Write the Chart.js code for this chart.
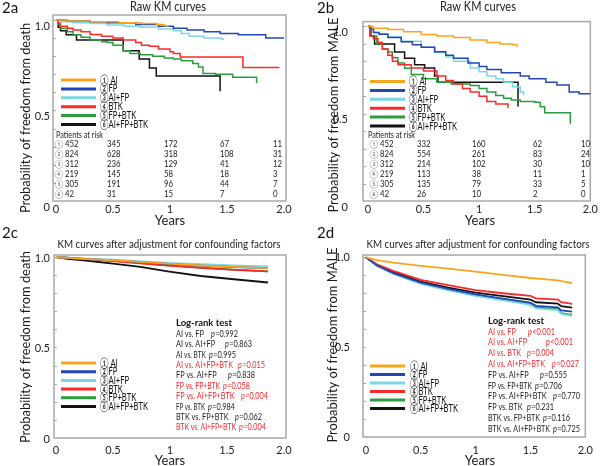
<!DOCTYPE html>
<html><head><meta charset="utf-8">
<script src="https://cdn.jsdelivr.net/npm/chart.js@4.4.1/dist/chart.umd.min.js"></script>
<style>
html,body{margin:0;padding:0;background:#fff;}
body{width:600px;height:466px;position:relative;overflow:hidden;}
canvas{position:absolute;display:block;}
</style></head>
<body>
<canvas id="ca" width="300" height="230" style="left:0;top:0"></canvas>
<canvas id="cb" width="300" height="230" style="left:300px;top:0"></canvas>
<canvas id="cc" width="300" height="246" style="left:0;top:220px"></canvas>
<canvas id="cd" width="300" height="246" style="left:300px;top:220px"></canvas>
<script>
// ---------- data ----------
const groups = ['AI','FP','AI+FP','BTK','FP+BTK','AI+FP+BTK'];
const circled = ['①','②','③','④','⑤','⑥'];
const xTicks = [0, 0.5, 1, 1.5, 2];
const xTickLabels = ['0','0.5','1','1.5','2.0'];
const yTicks = [0, 0.5, 1];
const yTickLabels = ['0','0.5','1.0'];
const minorTicks = [0.1,0.2,0.3,0.4,0.5,0.6,0.7,0.8,0.9,1.0];

// 2a raw KM, freedom from death  [years, probability]
const a_AI = [[0,1],[0.1,0.995],[0.3,0.99],[0.55,0.985],[0.75,0.98],[0.88,0.975],[0.95,0.968],[0.98,0.96]];
const a_FP = [[0,1],[0.1,0.995],[0.3,0.99],[0.45,0.985],[0.7,0.975],[0.9,0.965],[1.03,0.955],[1.15,0.945],[1.3,0.935],[1.44,0.925],[1.6,0.918],[1.84,0.9],[2.0,0.9]];
const a_AIFP = [[0,1],[0.05,0.99],[0.15,0.985],[0.3,0.98],[0.45,0.973],[0.6,0.965],[0.74,0.96],[0.9,0.95],[1.03,0.94],[1.1,0.925],[1.17,0.91],[1.3,0.9],[1.45,0.895],[1.47,0.888]];
const a_BTK = [[0,1],[0.02,0.985],[0.035,0.965],[0.1,0.955],[0.15,0.945],[0.22,0.935],[0.3,0.92],[0.4,0.91],[0.5,0.9],[0.59,0.89],[0.7,0.875],[0.75,0.86],[0.82,0.855],[0.9,0.84],[1.0,0.825],[1.03,0.815],[1.09,0.795],[1.64,0.738],[1.96,0.738]];
const a_FPBTK = [[0,1],[0.02,0.975],[0.04,0.955],[0.1,0.935],[0.15,0.918],[0.22,0.905],[0.3,0.89],[0.4,0.88],[0.45,0.875],[0.5,0.86],[0.59,0.83],[0.65,0.815],[0.74,0.808],[0.85,0.8],[0.95,0.79],[1.03,0.785],[1.1,0.775],[1.2,0.76],[1.25,0.74],[1.29,0.705],[1.4,0.7],[1.55,0.683],[1.76,0.66],[1.76,0.652]];
const a_ALL = [[0,1],[0.02,0.96],[0.04,0.94],[0.09,0.918],[0.18,0.89],[0.59,0.83],[0.73,0.785],[0.82,0.735],[0.88,0.69],[1.44,0.69],[1.44,0.606]];

// 2b raw KM, freedom from MALE
const b_AI = [[0,1],[0.05,0.99],[0.18,0.982],[0.32,0.97],[0.48,0.954],[0.62,0.945],[0.77,0.936],[0.92,0.922],[1.07,0.908],[1.19,0.899],[1.3,0.895],[1.34,0.881]];
const b_FP = [[0,1],[0.02,0.985],[0.05,0.965],[0.1,0.955],[0.18,0.936],[0.3,0.912],[0.4,0.895],[0.48,0.881],[0.6,0.855],[0.7,0.835],[0.77,0.817],[0.9,0.79],[1.0,0.77],[1.07,0.753],[1.2,0.735],[1.37,0.716],[1.45,0.7],[1.6,0.68],[1.7,0.665],[1.81,0.625],[1.9,0.615],[2.0,0.615]];
const b_AIFP = [[0,1],[0.02,0.985],[0.05,0.965],[0.1,0.958],[0.18,0.94],[0.3,0.915],[0.48,0.88],[0.6,0.85],[0.7,0.825],[0.77,0.8],[0.92,0.762],[1.0,0.74],[1.07,0.716],[1.15,0.7],[1.22,0.68],[1.3,0.655],[1.37,0.625],[1.4,0.606]];
const b_BTK = [[0,1],[0.02,0.945],[0.05,0.93],[0.09,0.908],[0.13,0.87],[0.18,0.835],[0.22,0.8],[0.27,0.78],[0.39,0.762],[0.5,0.745],[0.62,0.716],[0.7,0.69],[0.77,0.67],[0.85,0.645],[0.92,0.625],[1.0,0.6],[1.07,0.57],[1.15,0.555],[1.26,0.533]];
const b_FPBTK = [[0,1],[0.03,0.945],[0.08,0.9],[0.13,0.87],[0.18,0.853],[0.22,0.82],[0.27,0.79],[0.33,0.76],[0.39,0.725],[0.5,0.7],[0.62,0.68],[0.75,0.67],[0.92,0.661],[1.0,0.645],[1.07,0.625],[1.15,0.605],[1.22,0.588],[1.29,0.579],[1.37,0.57],[1.5,0.565],[1.55,0.54],[1.59,0.505],[1.82,0.505],[1.82,0.442]];
const b_ALL = [[0,1],[0.02,0.945],[0.06,0.899],[0.24,0.853],[0.33,0.817],[0.42,0.78],[0.51,0.762],[0.6,0.716],[0.63,0.68],[1.35,0.68],[1.35,0.542]];

// 2c adjusted KM, freedom from death
const c_AI = [[0,1],[0.24,0.99],[0.5,0.982],[0.98,0.963],[1.27,0.953],[1.56,0.945],[1.86,0.939]];
const c_FP = [[0,1],[0.24,0.989],[0.5,0.981],[0.98,0.962],[1.27,0.952],[1.56,0.944],[1.86,0.938]];
const c_AIFP = [[0,1],[0.24,0.992],[0.5,0.985],[0.98,0.968],[1.27,0.96],[1.56,0.954],[1.86,0.948]];
const c_BTK = [[0,1],[0.24,0.99],[0.5,0.977],[0.98,0.953],[1.27,0.94],[1.56,0.929],[1.86,0.92]];
const c_FPBTK = [[0,1],[0.24,0.99],[0.5,0.978],[0.98,0.954],[1.27,0.941],[1.56,0.93],[1.86,0.921]];
const c_ALL = [[0,1],[0.1,0.99],[0.24,0.982],[0.5,0.963],[0.74,0.945],[0.98,0.921],[1.27,0.895],[1.56,0.877],[1.86,0.859]];

// 2d adjusted KM, freedom from MALE
const d_AI = [[0,1],[0.1,0.985],[0.25,0.97],[0.5,0.952],[0.75,0.937],[1.0,0.92],[1.25,0.902],[1.5,0.885],[1.75,0.872],[1.88,0.856]];
const d_FP = [[0,1],[0.1,0.955],[0.25,0.912],[0.5,0.859],[0.75,0.825],[1.0,0.794],[1.25,0.77],[1.5,0.748],[1.55,0.73],[1.75,0.722],[1.78,0.705],[1.88,0.698]];
const d_AIFP = [[0,1],[0.1,0.953],[0.25,0.908],[0.5,0.852],[0.75,0.816],[1.0,0.785],[1.25,0.76],[1.5,0.735],[1.55,0.716],[1.75,0.706],[1.78,0.685],[1.88,0.674]];
const d_BTK = [[0,1],[0.1,0.961],[0.25,0.925],[0.5,0.874],[0.75,0.845],[1.0,0.818],[1.25,0.8],[1.5,0.785],[1.55,0.772],[1.75,0.765],[1.78,0.75],[1.88,0.741]];
const d_FPBTK = [[0,1],[0.1,0.954],[0.25,0.91],[0.5,0.856],[0.75,0.82],[1.0,0.789],[1.25,0.765],[1.5,0.741],[1.55,0.722],[1.75,0.712],[1.78,0.69],[1.88,0.68]];
const d_ALL = [[0,1],[0.1,0.957],[0.25,0.918],[0.5,0.865],[0.75,0.832],[1.0,0.804],[1.25,0.784],[1.5,0.765],[1.55,0.75],[1.75,0.742],[1.78,0.728],[1.88,0.72]];

// patients at risk (rows = groups, cols = 0, 0.5, 1, 1.5, 2 years)
const riskA = [[452,345,172,67,11],[824,628,318,108,31],[312,236,129,41,12],[219,145,58,18,3],[305,191,96,44,7],[42,31,15,7,0]];
const riskB = [[452,332,160,62,10],[824,554,261,83,24],[312,214,102,30,10],[219,113,38,11,1],[305,135,79,33,5],[42,26,10,2,0]];

// log-rank tests
const lrC_pairs = ['AI vs. FP','AI vs. AI+FP','AI vs. BTK','AI vs. AI+FP+BTK','FP vs. AI+FP','FP vs. FP+BTK','FP vs. AI+FP+BTK','FP vs. BTK','BTK vs. FP+BTK','BTK vs. AI+FP+BTK'];
const lrC_p = ['=0.992','=0.863','=0.995','=0.015','=0.838','=0.058','=0.004','=0.984','=0.062','=0.004'];
const lrC_sig = [0,0,0,1,0,1,1,0,0,1];
const lrD_pairs = ['AI vs. FP','AI vs. AI+FP','AI vs. BTK','AI vs. AI+FP+BTK','FP vs. AI+FP','FP vs. FP+BTK','FP vs. AI+FP+BTK','FP vs. BTK','BTK vs. FP+BTK','BTK vs. AI+FP+BTK'];
const lrD_p = ['<0.001','<0.001','=0.004','=0.027','=0.555','=0.706','=0.770','=0.231','=0.116','=0.725'];
const lrD_sig = [1,1,1,1,0,0,0,0,0,0];

// ---------- styles / layout ----------
const colors = ['#F7A51E','#2446B4','#7DD6E4','#FA2A2A','#2A9E3C','#121212'];
const FAM = 'Lato, "DejaVu Sans", sans-serif';
const lrPxC = [211,225,209,238,228,223,241,208,235,239];
const lrPxD = [528,546,527,552,540,535,553,527,543,553];

function txt(ctx, s, x, y, o) {
  ctx.save();
  ctx.font = o.font; ctx.fillStyle = o.color || '#1a1a1a';
  ctx.textAlign = o.align || 'left'; ctx.textBaseline = 'middle';
  ctx.translate(x, y);
  if (o.rot) ctx.rotate(o.rot);
  ctx.scale(o.sx || 1, 1);
  ctx.fillText(s, 0, 0);
  const w = ctx.measureText(s).width * (o.sx || 1);
  ctx.restore();
  return w;
}
function fitSx(ctx, font, sample, target) {
  ctx.save(); ctx.font = font; const w = ctx.measureText(sample).width; ctx.restore();
  return Math.min(1, target / w);
}

const deco = {
  ca: {ox:0, oy:0, tag:'2a', tagX:2, tagY:8, title:'Raw KM curves', titleX:168, titleY:7, titleSize:12.5, titleW:76,
       ytitle:'Probability of freedom from death', ytX:25, ytY:118, ytW:190, xtX:170, xtY:221,
       legend:{x0:61, x1:96, tx:100, y0:80, dy:8.9},
       table:{hx:56, hy:135, cx:59, y0:144.3, dy:10, cols:[65,107,164,220,273], data:riskA}},
  cb: {ox:300, oy:0, tag:'2b', tagX:317, tagY:8, title:'Raw KM curves', titleX:478, titleY:7, titleSize:12.5, titleW:76,
       ytitle:'Probability of freedom from MALE', ytX:333, ytY:115, ytW:195, xtX:480, xtY:221,
       legend:{x0:370, x1:405, tx:409, y0:81.5, dy:8.9},
       table:{hx:368, hy:135, cx:374, y0:144.3, dy:10, cols:[380,417,472,533,581], data:riskB}},
  cc: {ox:0, oy:220, tag:'2c', tagX:2, tagY:233, title:'KM curves after adjustment for confounding factors', titleX:169, titleY:244, titleSize:11.5, titleW:223,
       ytitle:'Probability of freedom from death', ytX:25, ytY:347, ytW:192, xtX:170, xtY:461,
       legend:{x0:61, x1:96, tx:100, y0:363, dy:8.7},
       lr:{x:176, y0:323.3, dy:10.4, pairs:lrC_pairs, p:lrC_p, sig:lrC_sig, px:lrPxC}},
  cd: {ox:300, oy:220, tag:'2d', tagX:317, tagY:233, title:'KM curves after adjustment for confounding factors', titleX:478, titleY:244, titleSize:11.5, titleW:223,
       ytitle:'Probability of freedom from MALE', ytX:332, ytY:345, ytW:195, xtX:480, xtY:461,
       legend:{x0:370, x1:405, tx:410, y0:366, dy:8.5},
       lr:{x:488, y0:320.7, dy:10.8, pairs:lrD_pairs, p:lrD_p, sig:lrD_sig, px:lrPxD}}
};

const decoPlugin = {
  id: 'deco',
  beforeDatasetsDraw(chart) {
    const {ctx, chartArea: a, scales: {y}} = chart;
    ctx.save();
    ctx.strokeStyle = '#a8a8a8'; ctx.lineWidth = 1.5;
    ctx.strokeRect(a.left, a.top, a.right - a.left, a.bottom - a.top);
    ctx.lineWidth = 1;
    minorTicks.forEach(v => {
      const py = Math.round(y.getPixelForValue(v)) + 0.5;
      ctx.beginPath(); ctx.moveTo(a.left, py); ctx.lineTo(a.left + 3, py); ctx.stroke();
    });
    ctx.restore();
  },
  afterDraw(chart) {
    const d = deco[chart.canvas.id];
    const ctx = chart.ctx;
    ctx.save();
    ctx.translate(-d.ox, -d.oy);
    txt(ctx, d.tag, d.tagX, d.tagY, {font: '15px ' + FAM, color: '#111'});
    const tf = d.titleSize + 'px ' + FAM;
    txt(ctx, d.title, d.titleX, d.titleY, {font: tf, align: 'center', color: '#222', sx: fitSx(ctx, tf, d.title, d.titleW)});
    const yf = '14px ' + FAM;
    txt(ctx, d.ytitle, d.ytX, d.ytY, {font: yf, align: 'center', color: '#1a1a1a', rot: -Math.PI / 2, sx: fitSx(ctx, yf, d.ytitle, d.ytW)});
    txt(ctx, 'Years', d.xtX, d.xtY, {font: '13px ' + FAM, align: 'center', color: '#1a1a1a'});
    // legend
    const L = d.legend;
    const lf = '11px ' + FAM;
    const lsx = fitSx(ctx, lf, circled[5] + groups[5], 48);
    groups.forEach((g, i) => {
      const yy = L.y0 + i * L.dy;
      ctx.strokeStyle = colors[i]; ctx.lineWidth = 3; ctx.lineCap = 'butt';
      ctx.beginPath(); ctx.moveTo(L.x0, yy); ctx.lineTo(L.x1, yy); ctx.stroke();
      txt(ctx, circled[i] + (i === 0 ? ' ' : '') + g, L.tx, yy, {font: lf, color: '#111', sx: lsx});
    });
    // at-risk table
    if (d.table) {
      const T = d.table;
      const hf = '8.5px ' + FAM;
      txt(ctx, 'Patients at risk', T.hx, T.hy, {font: hf, color: '#222', sx: fitSx(ctx, hf, 'Patients at risk', 47)});
      T.data.forEach((row, i) => {
        const yy = T.y0 + i * T.dy;
        txt(ctx, circled[i], T.cx, yy, {font: '8px ' + FAM, color: '#777', align: 'center'});
        row.forEach((v, j) => txt(ctx, String(v), T.cols[j], yy, {font: '8.5px ' + FAM, color: '#222', sx: 0.92}));
      });
    }
    // log-rank
    if (d.lr) {
      const R = d.lr;
      const bf = 'bold 9.5px ' + FAM, rf = '9.5px ' + FAM, itf = 'italic 9.5px ' + FAM;
      txt(ctx, 'Log-rank test', R.x, R.y0, {font: bf, color: '#111', sx: fitSx(ctx, bf, 'Log-rank test', 60)});
      const sx = fitSx(ctx, rf, 'AI vs. AI+FP+BTK', 57);
      R.pairs.forEach((s, i) => {
        const yy = R.y0 + (i + 1) * R.dy;
        const col = R.sig[i] ? '#F0262A' : '#1a1a1a';
        const sxi = Math.min(sx, fitSx(ctx, rf, s, R.px[i] - R.x - 3));
        txt(ctx, s, R.x, yy, {font: rf, color: col, sx: sxi});
        const w = txt(ctx, 'p', R.px[i], yy, {font: itf, color: col, sx: sx});
        txt(ctx, R.p[i], R.px[i] + w + 0.3, yy, {font: rf, color: col, sx: sx});
      });
    }
    ctx.restore();
  }
};

function xy(a) { return a.map(p => ({x: p[0], y: p[1]})); }

function makeChart(id, W, H, area, xr, ymax, yPad, labelOff, xPad, series, stepped, bw) {
  const d = deco[id];
  const L = area.left - d.ox, T = area.top - d.oy, R = area.right - d.ox, B = area.bottom - d.oy;
  const tickFont = {family: FAM, size: 11};
  new Chart(document.getElementById(id), {
    type: 'line',
    data: {
      datasets: series.map((s, i) => ({
        label: groups[i], data: xy(s), borderColor: colors[i], backgroundColor: colors[i],
        borderWidth: bw, pointRadius: 0, fill: false, stepped: stepped, tension: 0
      }))
    },
    options: {
      responsive: false, animation: false, events: [],
      layout: {padding: {left: 0, top: T, right: W - R, bottom: 0}},
      plugins: {legend: {display: false}, tooltip: {enabled: false}, title: {display: false}},
      scales: {
        x: {
          type: 'linear', min: xr[0], max: xr[1],
          afterBuildTicks: s => { s.ticks = xTicks.map(v => ({value: v})); },
          afterFit: s => { s.height = H - B; },
          grid: {display: false, drawTicks: false}, border: {display: false},
          ticks: {padding: xPad, font: tickFont, color: '#222', maxRotation: 0, autoSkip: false,
                  callback: (v, i) => xTickLabels[i]}
        },
        y: {
          type: 'linear', min: 0, max: ymax,
          afterBuildTicks: s => { s.ticks = yTicks.map(v => ({value: v})); },
          afterFit: s => { s.width = L; },
          grid: {display: false, drawTicks: false}, border: {display: false},
          ticks: {padding: yPad, labelOffset: labelOff, font: tickFont, color: '#222',
                  callback: (v, i) => yTickLabels[i]}
        }
      }
    },
    plugins: [decoPlugin]
  });
}

makeChart('ca', 300, 230, {left:53, top:15, right:286, bottom:201}, [-0.026, 2.018], 1.0276, 3, 6, 2,
  [a_AI, a_FP, a_AIFP, a_BTK, a_FPBTK, a_ALL], true, 1.5);
makeChart('cb', 300, 230, {left:363, top:15, right:593, bottom:201}, [-0.044, 2.0], 1.0276, 15, 6, 2,
  [b_AI, b_FP, b_AIFP, b_BTK, b_FPBTK, b_ALL], true, 1.5);
makeChart('cc', 300, 246, {left:54, top:255, right:286, bottom:438}, [-0.0175, 2.0175], 1.011, 4, 1, 6,
  [c_AI, c_FP, c_AIFP, c_BTK, c_FPBTK, c_ALL], false, 1.8);
makeChart('cd', 300, 246, {left:363, top:255, right:593, bottom:437}, [-0.026, 2.0], 1.013, 13, 0, 7,
  [d_AI, d_FP, d_AIFP, d_BTK, d_FPBTK, d_ALL], false, 1.8);
</script>
</body></html>
